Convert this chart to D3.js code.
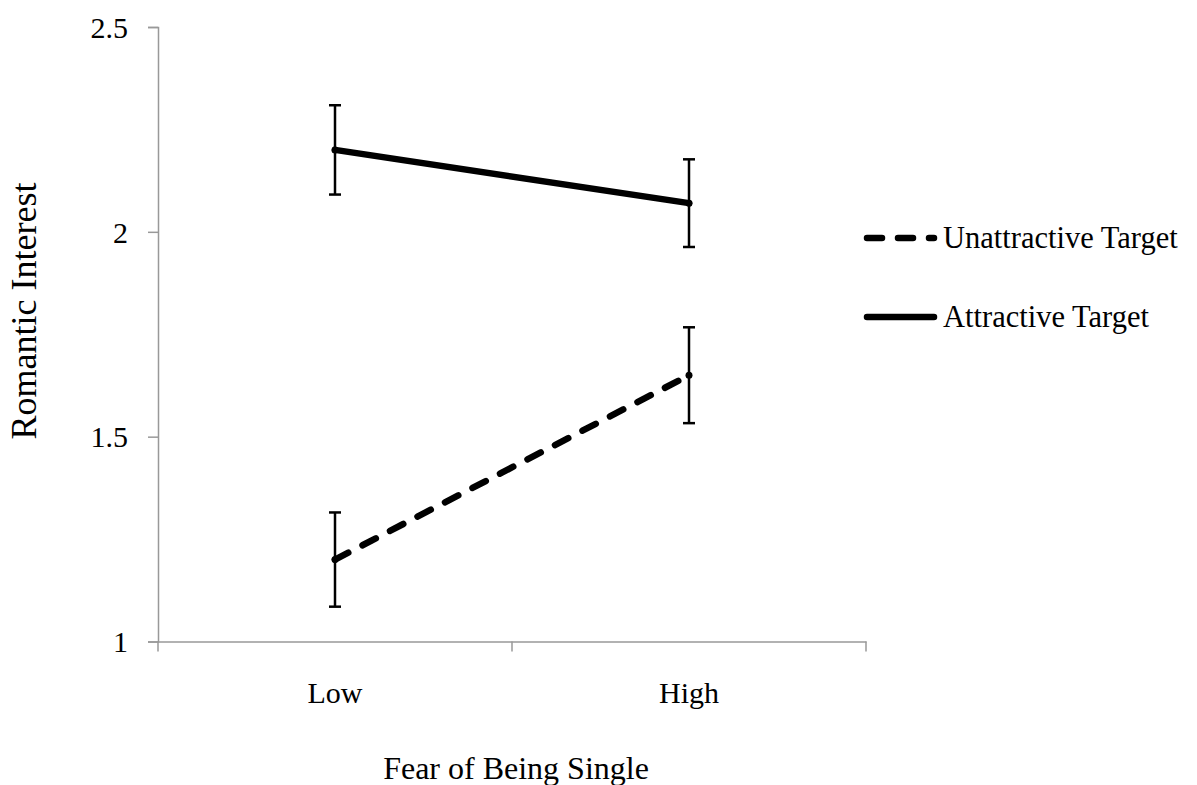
<!DOCTYPE html>
<html>
<head>
<meta charset="utf-8">
<script src="https://cdn.jsdelivr.net/npm/d3@7"></script>
<style>
  body { margin: 0; background: #fff; }
  svg text { font-family: "Liberation Serif", Tinos, Times, "DejaVu Serif", serif; fill: #000; }
</style>
</head>
<body>
<script>
// data
let levels = ['Low', 'High'];
let seriesNames = ['Unattractive Target', 'Attractive Target'];
let unattractive = [1.20, 1.65];
let unattractiveErr = [0.115, 0.117];
let attractive = [2.20, 2.07];
let attractiveErr = [0.109, 0.107];
let yTicks = [1, 1.5, 2, 2.5];

let width = 1197;
let height = 785;

let svg = d3.select('body')
  .append('svg')
  .attr('width', width)
  .attr('height', height);

let x = d3.scaleBand()
  .domain(levels)
  .range([158, 866]);

let y = d3.scaleLinear()
  .domain([1, 2.5])
  .range([641.5, 27]);

// axes
let yAxis = svg.append('g')
  .attr('transform', 'translate(158,0)')
  .call(d3.axisLeft(y).tickValues(yTicks).tickSize(10).tickPadding(20)
    .tickFormat(d3.format('')));

let xAxis = svg.append('g')
  .attr('transform', 'translate(0,641.5)')
  .call(d3.axisBottom(x).tickSize(0).tickPadding(40));

// x ticks sit at band edges
svg.append('g')
  .selectAll('line')
  .data([158, 512, 866])
  .enter()
  .append('line')
  .attr('x1', (d) => d)
  .attr('x2', (d) => d)
  .attr('y1', 641.5)
  .attr('y2', 651.5)
  .attr('stroke', '#999')
  .attr('stroke-width', 1.5);

[yAxis, xAxis].forEach((g) => {
  g.attr('font-family', null);
  g.select('.domain').attr('stroke', '#999').attr('stroke-width', 1.5);
  g.selectAll('.tick line').attr('stroke', '#999').attr('stroke-width', 1.5);
  g.selectAll('.tick text')
    .attr('font-size', 30)
    .attr('fill', '#000');
});
yAxis.selectAll('.tick text').attr('dy', '0.34em');

let cx = (i) => x(levels[i]) + x.bandwidth() / 2;

let series = [
  { name: seriesNames[0], values: unattractive, err: unattractiveErr, dash: '15 16' },
  { name: seriesNames[1], values: attractive, err: attractiveErr, dash: null }
];

let line = d3.line()
  .x((d, i) => cx(i))
  .y((d) => y(d));

// error bars
series.forEach((s) => {
  let g = svg.append('g').attr('stroke', '#000').attr('stroke-width', 2.5);
  s.values.forEach((v, i) => {
    let top = y(v + s.err[i]);
    let bot = y(v - s.err[i]);
    g.append('line').attr('x1', cx(i)).attr('x2', cx(i)).attr('y1', top).attr('y2', bot);
    g.append('line').attr('x1', cx(i) - 6).attr('x2', cx(i) + 6).attr('y1', top).attr('y2', top);
    g.append('line').attr('x1', cx(i) - 6).attr('x2', cx(i) + 6).attr('y1', bot).attr('y2', bot);
  });
});

// lines
series.forEach((s) => {
  svg.append('path')
    .datum(s.values)
    .attr('d', line)
    .attr('fill', 'none')
    .attr('stroke', '#000')
    .attr('stroke-width', 6.5)
    .attr('stroke-linecap', 'round')
    .attr('stroke-dasharray', s.dash);
  svg.selectAll(null)
    .data(s.values)
    .enter()
    .append('circle')
    .attr('cx', (d, i) => cx(i))
    .attr('cy', (d) => y(d))
    .attr('r', 3.5)
    .attr('fill', '#000');
});

// legend
let legendY = [238, 317];
series.forEach((s, i) => {
  svg.append('line')
    .attr('x1', 867)
    .attr('x2', 934)
    .attr('y1', legendY[i])
    .attr('y2', legendY[i])
    .attr('stroke', '#000')
    .attr('stroke-width', 6.5)
    .attr('stroke-linecap', 'round')
    .attr('stroke-dasharray', s.dash);
  svg.append('text')
    .attr('x', 943)
    .attr('y', legendY[i])
    .attr('dy', '0.34em')
    .attr('font-size', 30.5)
    .text(s.name);
});

// axis titles
svg.append('text')
  .attr('x', 516)
  .attr('y', 779)
  .attr('text-anchor', 'middle')
  .attr('font-size', 32)
  .text('Fear of Being Single');

svg.append('text')
  .attr('transform', 'translate(36,311) rotate(-90)')
  .attr('text-anchor', 'middle')
  .attr('font-size', 36)
  .text('Romantic Interest');
</script>
</body>
</html>
